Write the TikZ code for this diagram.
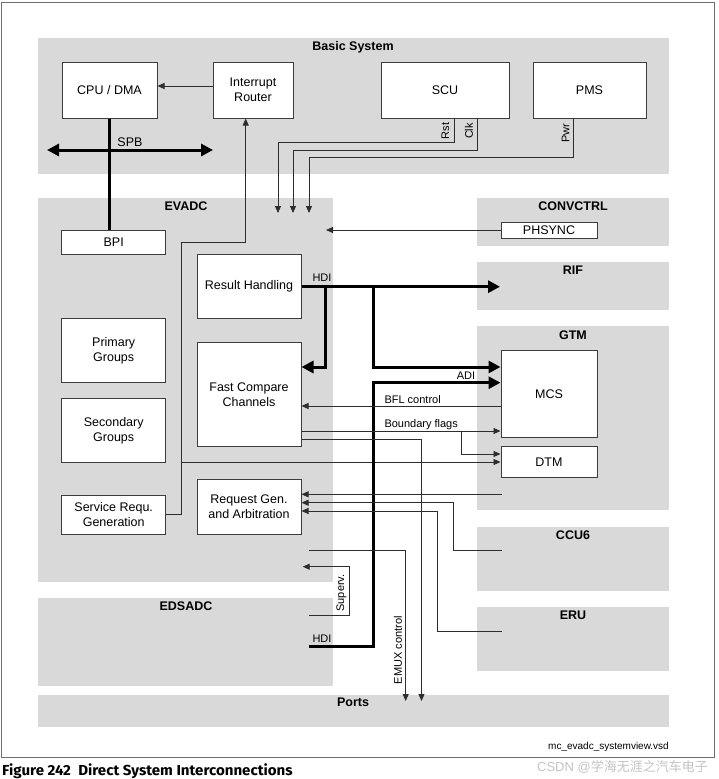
\documentclass[tikz,border=0pt]{standalone}
\usepackage{fontspec}
\setmainfont{Liberation Sans}
\newfontfamily\capfont{Fira Sans}
\newfontfamily\cjkfont{Noto Sans CJK SC}
\usetikzlibrary{arrows.meta,calc}
\definecolor{regiongray}{RGB}{217,217,217}
\definecolor{boxc}{RGB}{60,60,60}
\definecolor{linec}{RGB}{45,45,45}
\definecolor{wmark}{RGB}{195,195,195}
\definecolor{framec}{RGB}{110,110,110}
\begin{document}
\begin{tikzpicture}[x=1pt,y=-1pt,
  region/.style={fill=regiongray,draw=none},
  blk/.style={draw=boxc,fill=white,line width=1pt,align=center,inner sep=0pt,font=\fontsize{12.5}{15}\selectfont},
  ttl/.style={font=\fontsize{12.5}{15}\selectfont\bfseries,inner sep=0pt,anchor=base},
  lbl/.style={font=\fontsize{11}{13}\selectfont,inner sep=0pt},
  wire/.style={draw=linec,line width=0.9pt},
  arr/.style={wire,-{Triangle[length=7pt,width=6pt]}},
  bus/.style={draw=black,line width=3pt},
  busarr/.style={bus,-{Triangle[length=12pt,width=12pt]}},
]
\useasboundingbox (0,0) rectangle (718,779);
% outer frame
\draw[framec,line width=0.8pt] (1,2) rectangle (714.5,757);

% regions
\path[region] (38,38) rectangle (669,174);
\path[region] (38,198) rectangle (333,582);
\path[region] (38,598) rectangle (333,686);
\path[region] (477,198) rectangle (669,246);
\path[region] (477,262) rectangle (669,310);
\path[region] (477,326) rectangle (669,510);
\path[region] (477,527) rectangle (669,591);
\path[region] (477,607) rectangle (669,671);
\path[region] (38,695) rectangle (669,727);

% region titles
\node[ttl] (tbasic) at (353,50) {Basic System};
\node[ttl] (tevadc) at (186,210) {EVADC};
\node[ttl] (tedsadc) at (186,610.5) {EDSADC};
\node[ttl] (tconv) at (573,210) {CONVCTRL};
\node[ttl] (trif) at (573,274.5) {RIF};
\node[ttl] (tgtm) at (573,339) {GTM};
\node[ttl] (tccu) at (573,539) {CCU6};
\node[ttl] (teru) at (573,619) {ERU};
\node[ttl] (tports) at (353,706.7) {Ports};

% blocks
\node[blk,minimum width=95,minimum height=56] (cpu) at (109.5,90) {CPU / DMA};
\node[blk,minimum width=80,minimum height=56] (ir) at (253,90) {Interrupt\\Router};
\node[blk,minimum width=128,minimum height=56] (scu) at (445,90) {SCU};
\node[blk,minimum width=113,minimum height=56] (pms) at (589.5,90) {PMS};
\node[blk,minimum width=104,minimum height=24] (bpi) at (113.7,242) {BPI};
\node[blk,minimum width=96,minimum height=16] (phs) at (549,230) {PHSYNC};
\node[blk,minimum width=104,minimum height=64] (rh) at (249,286) {Result Handling};
\node[blk,minimum width=104,minimum height=104] (fcc) at (249,394.7) {Fast Compare\\Channels};
\node[blk,minimum width=104,minimum height=55] (rga) at (249,506.7) {Request Gen.\\and Arbitration};
\node[blk,minimum width=104,minimum height=64] (pg) at (113.7,350.3) {Primary\\Groups};
\node[blk,minimum width=104,minimum height=64] (sg) at (113.7,430.5) {Secondary\\Groups};
\node[blk,minimum width=104,minimum height=39] (srg) at (113.7,514.7) {Service Requ.\\Generation};
\node[blk,minimum width=96,minimum height=87] (mcs) at (549,394.4) {MCS};
\node[blk,minimum width=96,minimum height=31] (dtm) at (549,462.4) {DTM};

% free-end coordinates
\coordinate (spbl) at (47,150);
\coordinate (spbr) at (213,150);
\coordinate (in1) at (278,213);
\coordinate (in2) at (293,213);
\coordinate (in3) at (309,213);
\coordinate (phsin) at (326,230);
\coordinate (rifin) at (500,286.7);
\coordinate (hdie) at (309,646.7);
\coordinate (emuxs) at (309,550.7);
\coordinate (emuxe) at (405.7,701);
\coordinate (fccp) at (421.5,701);
\coordinate (supa) at (309,615);
\coordinate (supb) at (302.7,566.7);
\coordinate (gtmo) at (501.5,494.3);
\coordinate (ccuo) at (501.5,550.7);
\coordinate (eruo) at (501.5,631);

% Basic system connections
\draw[arr] ([yshift=4]ir.west) -- ([yshift=4]cpu.east);
\draw[bus,{Triangle[length=12pt,width=12pt]}-{Triangle[length=12pt,width=12pt]}] (spbl) -- (spbr);
\node[lbl,font=\fontsize{12.5}{14}\selectfont,anchor=base] (spbt) at (130,146.7) {SPB};
\draw[bus] (cpu.south) -- (cpu.south |- bpi.north);

\draw[arr] (scu.south -| 454,0) |- (278,142.3) -- (in1);
\draw[arr] (scu.south -| 477,0) |- (293,150) -- (in2);
\draw[arr] (pms.south -| 573,0) |- (309,157.7) -- (in3);
\node[lbl,rotate=90] (rst) at (445.5,131) {Rst};
\node[lbl,rotate=90] (clk) at (469,131) {Clk};
\node[lbl,rotate=90] (pwr) at (565.5,133) {Pwr};

% service request
\draw[arr] (srg.east) -| (181.7,242) -| (ir.south -| 245.7,0);
\draw[arr] (181.7,462) -- (dtm.west |- 0,462);

% PHSYNC
\draw[arr] (phs.west) -- (phsin);

% HDI / ADI
\draw[busarr] (rh.east |- 0,286.7) -- (rifin);
\node[lbl,anchor=base] (hdi1) at (322,281.7) {HDI};
\draw[busarr] (325,286.7) |- (fcc.east |- 0,367);
\draw[busarr] (373,286.7) |- (mcs.west |- 0,367);
\draw[busarr] (hdie) -| (373.3,382.7) -- (mcs.west |- 0,382.7);
\node[lbl,anchor=base] (adi) at (466,379.3) {ADI};
\node[lbl,anchor=base] (hdi2) at (322,642.7) {HDI};

% GTM <-> FCC
\draw[arr] (mcs.west |- 0,406) -- (fcc.east |- 0,406);
\node[lbl,anchor=base west] (bfl) at (384.3,403.3) {BFL control};
\draw[arr] (fcc.east |- 0,431) -- (mcs.west |- 0,431);
\node[lbl,anchor=base west] (bflags) at (384.3,427.3) {Boundary flags};
\draw[arr] (461,431) |- (dtm.west |- 0,454);
\draw[arr] (fcc.east |- 0,439) -| (fccp);

% Request gen inputs
\draw[arr] (gtmo) -- (rga.east |- 0,494.3);
\draw[arr] (ccuo) -| (453.3,502.7) -- (rga.east |- 0,502.7);
\draw[arr] (eruo) -| (437.3,511) -- (rga.east |- 0,511);

% EMUX and Superv.
\draw[arr] (emuxs) -| (emuxe);
\node[lbl,rotate=90] (emux) at (398,650.3) {EMUX control};
\draw[arr] (supa) -| (349.3,566.7) -- (supb);
\node[lbl,rotate=90] (sup) at (341.3,593) {Superv.};

% footer texts
\node[inner sep=0pt,anchor=base east,font=\fontsize{10}{11}\selectfont] (file) at (669,749) {mc\_evadc\_systemview.vsd};
\node[inner sep=0pt,anchor=base west,font=\capfont\bfseries\fontsize{14.5}{16}\selectfont] (cap) at (2,775.7) {\scalebox{1.04}[1]{Figure 242\hspace{7pt}Direct System Interconnections}};
\node[inner sep=0pt,anchor=base east,text=wmark,font=\fontsize{13}{15}\selectfont] (wm) at (708,771) {CSDN @{\cjkfont 学海无涯之汽车电子}};
\end{tikzpicture}
\end{document}
